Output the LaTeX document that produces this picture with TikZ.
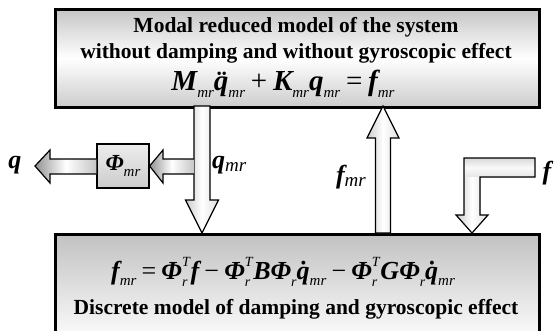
\documentclass[tikz,border=0pt]{standalone}
\usepackage{fontspec}
\setmainfont{Liberation Serif}
\usetikzlibrary{calc}
\newcommand\bi[1]{{\bfseries\itshape #1}}
\newcommand\sbs[1]{\raisebox{-0.26em}{\fontsize{15}{15}\selectfont\itshape #1}}
\newcommand\lsb[1]{\raisebox{-0.12em}{\fontsize{19}{19}\selectfont\itshape #1}}
\newcommand\tr{\rlap{\raisebox{0.48em}{\fontsize{14}{14}\selectfont\itshape T}}\raisebox{-0.28em}{\fontsize{14}{14}\selectfont\itshape r}\hspace{0.12em}}
\newcommand\rr{\raisebox{-0.28em}{\fontsize{14}{14}\selectfont\itshape r}}
\newcommand\op[1]{\hspace{0.2em}#1\hspace{0.2em}}
\tikzset{
  bigbox/.style={draw=black, line width=2.5pt},
  blockarrow/.style={draw=black, line width=1.2pt, line join=miter},
  vshade/.style={left color=gray!40, right color=gray!25, middle color=white},
  hshade/.style={left color=gray!85, right color=gray!45, middle color=white},
  txt/.style={font=\fontsize{21.5}{24}\selectfont\bfseries, inner sep=0pt},
  lbl/.style={inner sep=0pt}
}
\begin{document}
\begin{tikzpicture}[x=1pt,y=-1pt]
\useasboundingbox (0,0) rectangle (559,330);
% boxes
\node[bigbox, top color=gray!45, bottom color=gray!40, middle color=white, minimum width=484pt, minimum height=98pt, anchor=north west, inner sep=0pt] (top) at (54,8) {};
\node[bigbox, top color=gray!48, bottom color=white, minimum width=484pt, minimum height=110pt, anchor=north west, inner sep=0pt] (bot) at (54,233) {};
% texts in top box
\node[txt] (t1) at (296,27) {Modal reduced model of the system};
\node[txt] (t2) at (296,53) {without damping and without gyroscopic effect};
\node[lbl, font=\fontsize{29}{31}\selectfont] (eq1) at (283,84)
  {\bi{M}\sbs{mr}\bi{\"q}\sbs{mr}\op{+}\bi{K}\sbs{mr}\bi{q}\sbs{mr}\op{=}\bi{f}\sbs{mr}};
% texts in bottom box
\node[lbl, font=\fontsize{26}{28}\selectfont] (eq2) at (283,272)
  {\bi{f}\sbs{mr}\op{=}\bi{Φ}\tr\bi{f}\op{−}\bi{Φ}\tr\bi{B}\bi{Φ}\rr\bi{\.q}\sbs{mr}\op{−}\bi{Φ}\tr\bi{G}\bi{Φ}\rr\bi{\.q}\sbs{mr}};
\node[txt] (b2) at (296,309) {Discrete model of damping and gyroscopic effect};
% Phi box
\node[draw=black, line width=1.2pt, top color=gray!15, bottom color=gray!40, minimum width=52pt, minimum height=44pt, inner sep=0pt] (phi) at (123,166) {};
\node[lbl, font=\fontsize{23}{25}\selectfont] (phit) at (phi) {\bi{Φ}\sbs{mr}};
% q_mr arrow (down)
\coordinate (qa) at (202,106);
\draw[blockarrow, vshade] ($(qa)+(-8,0)$) -- ($(qa)+(8,0)$) -- ($(qa)+(8,94)$) -- ($(qa)+(16.5,94)$) -- (202,233) -- ($(qa)+(-16.5,94)$) -- ($(qa)+(-8,94)$) -- cycle;
% arrow from q_mr shaft to Phi
\draw[blockarrow, hshade] (194,159) -- (163,159) -- (163,150) -- (phi.east |- 0,166) -- (163,183) -- (163,174) -- (194,174);
% arrow from Phi to q
\draw[blockarrow, hshade] (phi.west |- 0,159) -- (50,159) -- (50,150) -- (35,166) -- (50,183) -- (50,174) -- (phi.west |- 0,174);
% f_mr arrow (up)
\draw[blockarrow, vshade] (375.5,233) -- (390.5,233) -- (390.5,138) -- (399,138) -- (383,106) -- (367,138) -- (375.5,138) -- cycle;
% f L-arrow
\fill[top color=gray!30, bottom color=gray!20, middle color=white!95!gray] (464,158) rectangle (535,177);
\fill[vshade] (464,177) -- (480,177) -- (480,215) -- (488,215) -- (472,233) -- (456,215) -- (464,215) -- cycle;
\draw[blockarrow] (535,158) -- (535,177) -- (480,177) -- (480,215) -- (488,215) -- (472,233) -- (456,215) -- (464,215) -- (464,158) -- cycle;
% labels
\node[lbl, font=\fontsize{26}{28}\selectfont] (ql) at (15,165) {\bi{q}};
\node[lbl, font=\fontsize{26}{28}\selectfont, anchor=west] (qmrl) at (212,165) {\bi{q}\lsb{mr}};
\node[lbl, font=\fontsize{26}{28}\selectfont, anchor=east] (fmrl) at (366,177) {\bi{f}\lsb{mr}};
\node[lbl, font=\fontsize{26}{28}\selectfont] (fl) at (547,173) {\bi{f}};
\end{tikzpicture}
\end{document}
